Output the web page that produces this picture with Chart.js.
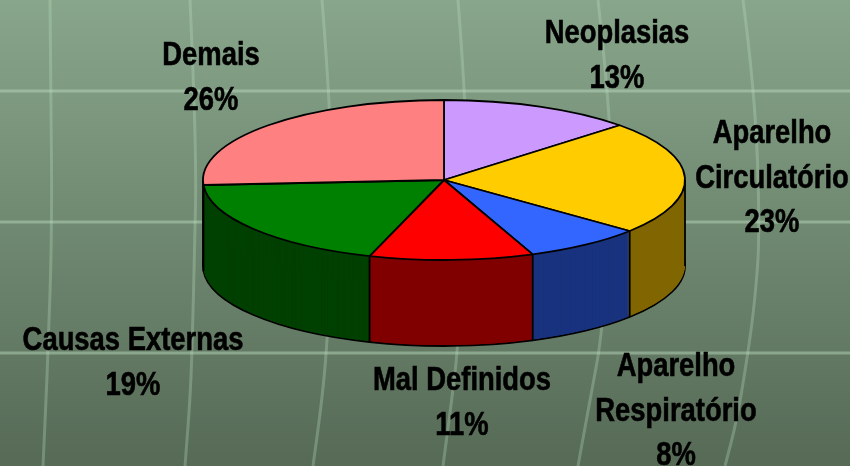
<!DOCTYPE html>
<html>
<head>
<meta charset="utf-8">
<title>Pie</title>
<style>
  html, body { margin: 0; padding: 0; background: #6f8a70; }
  canvas { display: block; }
</style>
<script src="https://cdn.jsdelivr.net/npm/chart.js@4/dist/chart.umd.min.js"></script>
</head>
<body>
<canvas id="chart" width="850" height="466"></canvas>
<script>
'use strict';

var categories = [
  ['Neoplasias'],
  ['Aparelho', 'Circulatório'],
  ['Aparelho', 'Respiratório'],
  ['Mal Definidos'],
  ['Causas Externas'],
  ['Demais']
];
var shares = [13, 23, 8, 11, 19, 26];
var topColors = ['#cc99ff', '#ffcc00', '#3366ff', '#ff0000', '#008000', '#ff8080'];
var wallColors = ['#664d80', '#806600', '#19337f', '#800000', '#004000', '#804040'];

// Centre x and first baseline of each label, slice order.
var labelAnchors = [[617, 43], [772, 143], [676, 376], [462, 390], [133, 350], [211, 65]];

var PIE = { x: 444, y: 180, rx: 241, ry: 80, depth: 86 };
var OUTLINE = 1.8;
var LINE_HEIGHT = 44.7;
var FONT = 'bold 33px "Liberation Sans", sans-serif';
var TEXT_NARROW = 0.83;

// The faint curved lines of the slide backdrop.
var NET = [
  [[50, 0], [51, 91], [52, 233], [48, 353], [46, 400], [43, 466]],
  [[190, 0], [194, 91], [196, 180], [195, 233], [192, 353], [190, 400], [185, 466]],
  [[322, 0], [330, 100], [333, 233], [327, 345], [322, 400], [313, 466]],
  [[458, 0], [465, 91], [467, 180], [458, 346], [453, 390], [443, 466]],
  [[598, 0], [608, 91], [612, 180], [603, 330], [590, 400], [578, 466]],
  [[743, 0], [755, 91], [760, 233], [755, 300], [748, 353], [737, 420], [725, 466]]
];

/**
 * Draw the slide backdrop: vertical gradient and the faint net of lines.
 */
function drawBackdrop(ctx, width, height) {
  var fill = ctx.createLinearGradient(0, 0, 0, height);
  fill.addColorStop(0, '#88a68b');
  fill.addColorStop(1, '#566a56');
  ctx.fillStyle = fill;
  ctx.fillRect(0, 0, width, height);

  ctx.save();
  ctx.strokeStyle = 'rgba(190, 225, 195, 0.45)';
  ctx.lineWidth = 3;
  [91, 222, 353].forEach(function (y) {
    ctx.beginPath();
    ctx.moveTo(0, y);
    ctx.lineTo(width, y);
    ctx.stroke();
  });

  ctx.strokeStyle = 'rgba(190, 225, 195, 0.3)';
  NET.forEach(function (p) {
    ctx.beginPath();
    ctx.moveTo(p[0][0], p[0][1]);
    for (var i = 1; i < p.length - 1; i++) {
      ctx.quadraticCurveTo(p[i][0], p[i][1], (p[i][0] + p[i + 1][0]) / 2, (p[i][1] + p[i + 1][1]) / 2);
    }
    ctx.lineTo(p[p.length - 1][0], p[p.length - 1][1]);
    ctx.stroke();
  });
  ctx.restore();
}

/**
 * Squash the context so the library's round arcs land on the pie ellipse.
 */
function squash(ctx, arc, dy) {
  ctx.translate(PIE.x, PIE.y + dy);
  ctx.scale(PIE.rx / arc.outerRadius, PIE.ry / arc.outerRadius);
  ctx.translate(-arc.x, -arc.y);
}

//
// Strokes run with the transform reset, so outlines keep an even width.
//
function evenStroke(ctx) {
  var stroke = CanvasRenderingContext2D.prototype.stroke;
  ctx.stroke = function () {
    ctx.save();
    ctx.setTransform(1, 0, 0, 1, 0, 0);
    stroke.call(ctx);
    ctx.restore();
  };
}

function drawWalls(ctx, arcs) {
  for (var d = PIE.depth; d > 0; d--) {
    ctx.save();
    squash(ctx, arcs[0], d);
    arcs.forEach(function (arc, i) {
      var own = arc.options;
      arc.options = Object.assign({}, own, {
        backgroundColor: wallColors[i],
        borderWidth: d === PIE.depth ? own.borderWidth : 0
      });
      arc.draw(ctx);
      arc.options = own;
    });
    ctx.restore();
  }
}

function drawSeams(ctx, arcs) {
  var angles = arcs.map(function (arc) { return arc.startAngle; }).concat([0, Math.PI]);

  ctx.save();
  ctx.strokeStyle = '#000';
  ctx.lineWidth = OUTLINE;
  angles.forEach(function (a) {
    if (Math.sin(a) < -1e-6) return;
    var x = PIE.x + PIE.rx * Math.cos(a);
    var y = PIE.y + PIE.ry * Math.sin(a);
    ctx.beginPath();
    ctx.moveTo(x, y);
    ctx.lineTo(x, y + PIE.depth);
    ctx.stroke();
  });
  ctx.restore();
}

function drawLabels(ctx) {
  ctx.save();
  ctx.fillStyle = '#000';
  ctx.strokeStyle = '#000';
  ctx.lineWidth = 0.6;
  ctx.font = FONT;
  ctx.textAlign = 'center';
  ctx.textBaseline = 'alphabetic';
  categories.forEach(function (lines, i) {
    lines.concat(shares[i] + '%').forEach(function (text, row) {
      ctx.save();
      ctx.translate(labelAnchors[i][0], labelAnchors[i][1] + row * LINE_HEIGHT);
      ctx.scale(TEXT_NARROW, 1);
      ctx.fillText(text, 0, 0);
      ctx.strokeText(text, 0, 0);
      ctx.restore();
    });
  });
  ctx.restore();
}

var pie3d = {
  id: 'pie3d',
  beforeDraw: function (chart) {
    drawBackdrop(chart.ctx, chart.width, chart.height);
  },
  beforeDatasetsDraw: function (chart) {
    var ctx = chart.ctx
      , arcs = chart.getDatasetMeta(0).data;

    evenStroke(ctx);
    drawWalls(ctx, arcs);
    drawSeams(ctx, arcs);

    ctx.save();
    squash(ctx, arcs[0], 0);
  },
  afterDatasetsDraw: function (chart) {
    var ctx = chart.ctx;

    ctx.restore();
    delete ctx.stroke;
    drawLabels(ctx);
  }
};

new Chart(document.getElementById('chart'), {
  type: 'pie',
  data: {
    labels: categories.map(function (lines) { return lines.join(' '); }),
    datasets: [{
      data: shares,
      backgroundColor: topColors,
      borderColor: '#000',
      borderWidth: OUTLINE,
      clip: false
    }]
  },
  options: {
    responsive: false,
    animation: false,
    plugins: { legend: { display: false }, tooltip: { enabled: false } }
  },
  plugins: [pie3d]
});
</script>
</body>
</html>
